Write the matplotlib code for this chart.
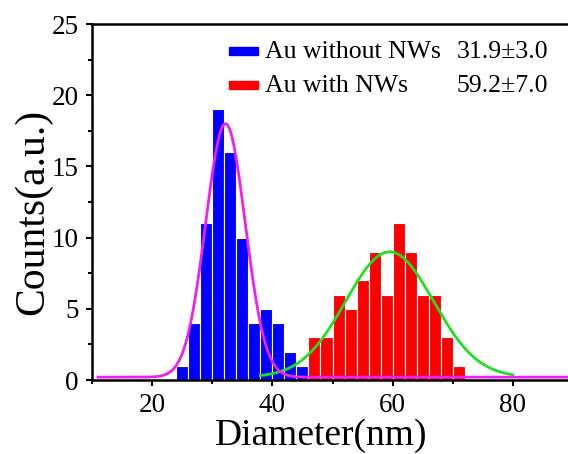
import numpy as np
import matplotlib
matplotlib.use("Agg")
import matplotlib.pyplot as plt
from matplotlib.ticker import MultipleLocator

plt.rcParams['font.family'] = ['Liberation Serif', 'DejaVu Serif']

# histogram bins (nm, bin centres) and counts
blue_x = [25, 27, 29, 31, 33, 35, 37, 39, 41, 43, 45]
blue_n = [1, 4, 11, 19, 16, 10, 4, 5, 4, 2, 1]
red_x = [47, 49, 51, 53, 55, 57, 59, 61, 63, 65, 67, 69, 71]
red_n = [3, 3, 6, 5, 7, 9, 6, 11, 9, 6, 6, 3, 1]

# gaussian fit parameters: centre, sigma, height, offset
fit_blue = (32.2, 3.3, 17.8, 0.2)
fit_red = (59.5, 7.3, 8.8, 0.2)
fit_blue_range = (11, 90)
fit_red_range = (38, 80)

labels = ['Au without NWs', 'Au with NWs']
stats = ['31.9\u00b13.0', '59.2\u00b17.0']


def gauss(x, p):
    xc, s, a, y0 = p
    return y0 + a * np.exp(-(x - xc) ** 2 / (2 * s ** 2))


W, H = 568, 454
fig = plt.figure(figsize=(W / 100, H / 100), dpi=100)
ax = fig.add_axes([92 / W, 1 - 380 / H, 481 / W, 356 / H])

ax.bar(blue_x, blue_n, width=2, color='#0000ff', edgecolor='white', linewidth=0.8, zorder=2)
ax.bar(red_x, red_n, width=2, color='#ff0000', edgecolor='white', linewidth=0.8, zorder=2)

xr = np.linspace(*fit_red_range, 300)
ax.plot(xr, gauss(xr, fit_red), color='#22dd22', lw=2, zorder=3)
xb = np.linspace(*fit_blue_range, 500)
ax.plot(xb, gauss(xb, fit_blue), color='#f020f0', lw=2, zorder=4)

ax.set_xlim(10, 90)
ax.set_ylim(0, 25)
ax.xaxis.set_major_locator(MultipleLocator(20))
ax.xaxis.set_minor_locator(MultipleLocator(10))
ax.yaxis.set_major_locator(MultipleLocator(5))
ax.yaxis.set_minor_locator(MultipleLocator(2.5))
ax.tick_params(which='major', direction='out', length=4.5, width=1.5, labelsize=19.5,
               pad=5, top=False, right=False)
ax.tick_params(which='minor', direction='out', length=3, width=1.5, top=False, right=False)
for sp in ax.spines.values():
    sp.set_linewidth(1.8)

fig.text(321 / W, 1 - 445 / H, 'Diameter(nm)', fontsize=27, ha='center', va='baseline')
fig.text(33 / W, 1 - 212 / H, 'Counts(a.u.)', fontsize=30, ha='center', va='center',
         rotation=90)

# legend drawn by hand so the stats column lines up
cols = ['#0000ff', '#ff0000']
for i, (lab, st, c) in enumerate(zip(labels, stats, cols)):
    base = 58 + 34 * i
    fig.patches.append(plt.Rectangle((229 / W, 1 - (base - 3) / H), 29 / W, 8 / H,
                                     transform=fig.transFigure, color=c, figure=fig))
    fig.text(265 / W, 1 - base / H, lab, fontsize=18.5, va='baseline', ha='left')
    fig.text(457 / W, 1 - base / H, st, fontsize=18.5, va='baseline', ha='left')

fig.savefig('out.png', dpi=100)
